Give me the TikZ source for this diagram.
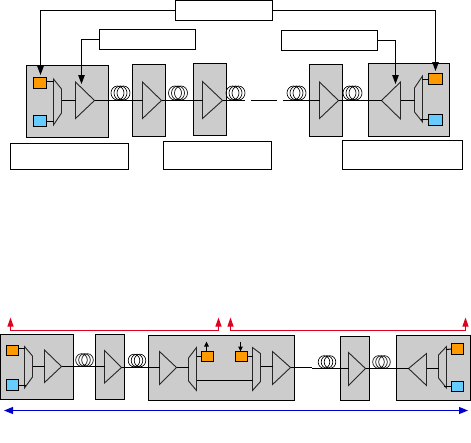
\documentclass[tikz,border=0pt]{standalone}
\usetikzlibrary{arrows.meta}
\definecolor{blockgray}{HTML}{CCCCCC}
\definecolor{sqorange}{HTML}{FF9900}
\definecolor{sqblue}{HTML}{66CCFF}
\definecolor{redline}{HTML}{E00020}
\definecolor{blueline}{HTML}{0000CC}
\tikzset{
  base/.style={inner sep=0pt,outer sep=0pt,line width=1pt,draw=black},
  graybox/.style={base,fill=blockgray},
  textbox/.style={base,fill=white},
  orangesq/.style={base,fill=sqorange},
  bluesq/.style={base,fill=sqblue},
  wire/.style={line width=1pt,black},
  part/.style={line width=0.9pt,black!85,line join=miter},
  fibre/.style={line width=0.65pt,black},
  ctrl/.style={line width=1pt,black,-{Triangle[length=9pt,width=6.5pt]}},
  tinyctrl/.style={line width=1pt,black,-{Triangle[length=5pt,width=4.5pt]}},
  redarrow/.style={line width=1pt,redline,-{Triangle[length=9pt,width=6pt]}},
  bluearrow/.style={line width=1pt,blueline,{Triangle[length=9pt,width=7pt]}-{Triangle[length=9pt,width=7pt]}},
}
% style, name, x1, y1, x2, y2
\newcommand{\Bx}[6]{\node[#1,minimum width={(#5-#3)*1pt},minimum height={(#6-#4)*1pt}] (#2) at ({(#3+#5)/2},{(#4+#6)/2}) {};}
% name, base x, top y, bottom y, tip x, tip y
\newcommand{\Amp}[6]{\draw[part] (#2,#3) -- (#2,#4) -- (#5,#6) -- cycle;
  \coordinate (#1b) at (#2,#6); \coordinate (#1t) at (#5,#6);}
% x wide, wide top, wide bottom, x narrow, narrow top, narrow bottom
\newcommand{\Mux}[6]{\draw[part] (#1,#2) -- (#4,#5) -- (#4,#6) -- (#1,#3) -- cycle;}
% centre x, centre y, rx, ry
\newcommand{\Coil}[4]{\foreach \d in {-1,0,1} \draw[fibre] ({#1+\d*3},#2) ellipse ({#3} and {#4});}
\begin{document}
\begin{tikzpicture}[x=1pt,y=-1pt]
\useasboundingbox (0,0) rectangle (471,442);
% ---------- top panel ----------
\Bx{graybox}{A}{26.5}{65.5}{108.5}{137.5}
\Bx{graybox}{B}{132.5}{64.5}{165.5}{136.5}
\Bx{graybox}{C}{193.5}{63.5}{226.5}{135.5}
\Bx{graybox}{D}{309.5}{64.5}{342.5}{136.5}
\Bx{graybox}{E}{368.5}{63.5}{449.5}{136.5}
\Bx{textbox}{top}{175.5}{0.5}{272.5}{20.5}
\Bx{textbox}{lbox}{99.5}{29.5}{195.5}{49.5}
\Bx{textbox}{rbox}{281.5}{30.5}{377.5}{50.5}
\Bx{textbox}{t1}{10.5}{143.5}{128.5}{169.5}
\Bx{textbox}{t2}{163.5}{141.5}{271.5}{169.5}
\Bx{textbox}{t3}{342.5}{140.5}{462.5}{169.5}
\Bx{orangesq}{aO}{33.5}{77.5}{46.5}{88.5}
\Bx{bluesq}{aB}{33.5}{115.5}{46.5}{126.5}
\Bx{orangesq}{eO}{428.5}{73.5}{442.5}{84.5}
\Bx{bluesq}{eB}{428.5}{114.5}{442.5}{125.5}
\Mux{53.5}{79}{125}{61.5}{89}{113}
\Mux{422.5}{76}{122}{414.5}{88}{112}
\Amp{a}{75.5}{82}{118.5}{94.5}{100.5}
\Amp{b}{142.5}{82}{118.5}{161.5}{100.5}
\Amp{c}{202.5}{81.5}{118.5}{222.5}{100.5}
\Amp{d}{319.5}{82}{118.5}{338.5}{100.5}
\Amp{e}{400.5}{82}{119}{381.5}{100.5}
\draw[wire] (46.5,81.5) -- (54,81.5);
\draw[wire] (46.5,121.5) -- (54,121.5);
\draw[wire] (61.5,100.5) -- (ab);
\draw[wire] (at) -- (bb);
\draw[wire] (bt) -- (cb);
\draw[wire] (ct) -- (245,100.5);
\draw[wire] (251,100.5) -- (277,100.5);
\draw[wire] (283,100.5) -- (db);
\draw[wire] (dt) -- (et);
\draw[wire] (eb) -- (414.5,100.5);
\draw[wire] (422,79.5) -- (428.5,79.5);
\draw[wire] (421,119.5) -- (428.5,119.5);
\Coil{120.5}{93}{6.5}{7}
\Coil{178}{93}{6.5}{7}
\Coil{235.5}{93}{6.5}{7}
\Coil{296.5}{93}{6.5}{7}
\Coil{352.5}{93}{6.5}{7}
\coordinate (arrAO) at (40.5,75);
\coordinate (arrAA) at (81.5,84);
\coordinate (arrEA) at (395.5,84);
\coordinate (arrEO) at (435.5,71);
\draw[ctrl] (top.west) -| (arrAO);
\draw[ctrl] (lbox.west) -| (arrAA);
\draw[ctrl] (rbox.east) -| (arrEA);
\draw[ctrl] (top.east) -| (arrEO);
% ---------- bottom panel ----------
\Bx{graybox}{A2}{0.5}{334.5}{73.5}{399.5}
\Bx{graybox}{B2}{95.5}{334.5}{124.5}{399.5}
\Bx{graybox}{C2}{148.5}{335.5}{294.5}{400.5}
\Bx{graybox}{D2}{340.5}{336.5}{369.5}{400.5}
\Bx{graybox}{E2}{396.5}{335.5}{470.5}{400.5}
\Bx{orangesq}{a2O}{6.5}{345.5}{18.5}{355.5}
\Bx{bluesq}{a2B}{6.5}{379.5}{18.5}{390.5}
\Bx{orangesq}{c2L}{201.5}{351.5}{213.5}{361.5}
\Bx{orangesq}{c2R}{235.5}{351.5}{247.5}{361.5}
\Bx{orangesq}{e2O}{451.5}{343.5}{463.5}{354.5}
\Bx{bluesq}{e2B}{451.5}{381.5}{463.5}{391.5}
\Mux{24.5}{346.5}{388}{32.5}{356}{377}
\Mux{196.5}{347.5}{390.5}{188.5}{358}{381}
\Mux{252.5}{347.5}{390.5}{260.5}{353.5}{381.5}
\Mux{446.5}{346.5}{388}{438.5}{355}{378}
\Amp{f}{44.5}{350}{382.5}{61.5}{366.5}
\Amp{g}{104.5}{350.5}{383}{121.5}{367.5}
\Amp{h}{159.5}{351.5}{384.5}{176.5}{367.5}
\Amp{i}{272.5}{351.5}{384.5}{290.5}{367.5}
\Amp{j}{348.5}{352.5}{385.5}{365.5}{368.5}
\Amp{k}{426.5}{353.5}{385.5}{408.5}{368.5}
\draw[wire] (18.5,348.5) -- (25,348.5);
\draw[wire] (18.5,385.5) -- (26,385.5);
\draw[wire] (32.5,366.5) -- (fb);
\draw[wire] (ft) -- (104.5,366.5);
\draw[wire] (gt) -- (hb);
\draw[wire] (ht) -- (188.5,367.5);
\draw[wire] (196.5,356.5) -- (c2L.west);
\draw[wire] (196.5,380.5) -- (253,380.5);
\draw[wire] (c2R.east) -- (253,356.5);
\draw[wire] (260.5,366.5) -- (272.5,366.5);
\draw[wire] (it) -- (312,367.5);
\draw[wire] (312,368.5) -- (jb);
\draw[wire] (jt) -- (kt);
\draw[wire] (kb) -- (438.5,368.5);
\draw[wire] (446,349.5) -- (e2O.west);
\draw[wire] (444,386.5) -- (e2B.west);
\Coil{84.5}{360}{5.8}{6.3}
\Coil{137}{360.5}{5.8}{6.3}
\Coil{327}{362}{5.8}{6.3}
\Coil{381.5}{362}{5.8}{6.3}
\coordinate (upL) at (206.5,341.5);
\coordinate (dnR) at (240.5,341.5);
\draw[tinyctrl] (upL |- c2L.north) -- (upL);
\draw[tinyctrl] (dnR) -- (dnR |- c2R.north);
\coordinate (r1a) at (10.5,317.5);
\coordinate (r1b) at (218.5,317.5);
\coordinate (r2a) at (230.5,317.5);
\coordinate (r2b) at (465.5,317.5);
\coordinate (r1c) at (10.5,330.5);
\coordinate (r2c) at (230.5,330.5);
\draw[redarrow] (r1c) -- (r1a);
\draw[redarrow] (r1c) -| (r1b);
\draw[redarrow] (r2c) -- (r2a);
\draw[redarrow] (r2c) -| (r2b);
\coordinate (bl) at (4,410.5);
\coordinate (br) at (468,410.5);
\draw[bluearrow] (bl) -- (br);
\end{tikzpicture}
\end{document}
